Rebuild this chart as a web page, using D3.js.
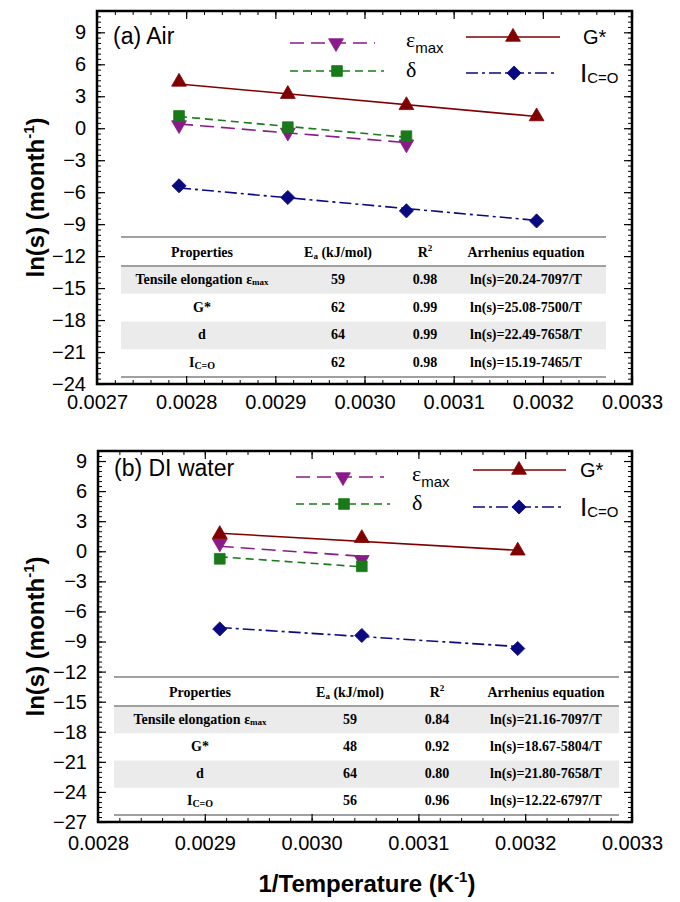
<!DOCTYPE html>
<html>
<head>
<meta charset="utf-8">
<script src="https://cdn.jsdelivr.net/npm/d3@7"></script>
<style>
  body { margin: 0; background: #fff; }
</style>
</head>
<body>
<div id="chart"></div>
<script>
// 1/T for 85, 70, 55, 40 degC
const airX = [0.002792, 0.002914, 0.003047, 0.003193];
const waterX = [0.002914, 0.003047, 0.003193];

const airEps = [0.3, -0.4, -1.5];
const airDelta = [1.15, 0.1, -0.75];
const airG = [4.35, 3.2, 2.15, 1.1];
const airIco = [-5.4, -6.5, -7.75, -8.7];

const waterEps = [0.8, -0.85];
const waterDelta = [-0.75, -1.5];
const waterG = [1.7, 1.3, 0.05];
const waterIco = [-7.75, -8.4, -9.7];

// fitted lines: value at first and last point
const airFitEps = [0.4, -1.35];
const airFitDelta = [1.1, -0.85];
const airFitG = [4.15, 1.1];
const airFitIco = [-5.6, -8.65];
const waterFitEps = [0.5, -0.5];
const waterFitDelta = [-0.55, -1.55];
const waterFitG = [1.8, 0.1];
const waterFitIco = [-7.6, -9.5];

const airXTicks = [0.0027, 0.0028, 0.0029, 0.0030, 0.0031, 0.0032, 0.0033];
const waterXTicks = [0.0028, 0.0029, 0.0030, 0.0031, 0.0032, 0.0033];
const airYTicks = [-24, -21, -18, -15, -12, -9, -6, -3, 0, 3, 6, 9];
const waterYTicks = [-27, -24, -21, -18, -15, -12, -9, -6, -3, 0, 3, 6, 9];

// table
const tableHead = ["Properties", "E", "R", "Arrhenius equation"];
const propMain = ["Tensile elongation ", "G*", "d", "I"];
const propSub = ["\u03b5max", "", "", "C=O"];
const airEa = ["59", "62", "64", "62"];
const airR2 = ["0.98", "0.99", "0.99", "0.98"];
const airEq = ["ln(s)=20.24-7097/T", "ln(s)=25.08-7500/T", "ln(s)=22.49-7658/T", "ln(s)=15.19-7465/T"];
const waterEa = ["59", "48", "64", "56"];
const waterR2 = ["0.84", "0.92", "0.80", "0.96"];
const waterEq = ["ln(s)=21.16-7097/T", "ln(s)=18.67-5804/T", "ln(s)=21.80-7658/T", "ln(s)=12.22-6797/T"];

const styles = {
  eps:   { color: "#8a1a8a", dash: "14,7", shape: "down" },
  delta: { color: "#1a7a1a", dash: "8,5", shape: "square" },
  g:     { color: "#800000", dash: null, shape: "up" },
  ico:   { color: "#0a0a80", dash: "12,4,3,4", shape: "diamond" }
};

const sans = "Arial, 'Liberation Sans', sans-serif";
const serif = "'Times New Roman', 'Liberation Serif', serif";

const svg = d3.select("#chart").append("svg")
  .attr("width", 680).attr("height", 902)
  .style("font-family", sans);

function marker(g, shape, cx, cy, color) {
  let sym = d3.symbolTriangle, size = 95, rot = 0;
  if (shape === "down") rot = 180;
  if (shape === "square") { sym = d3.symbolSquare; size = 115; }
  if (shape === "diamond") { sym = d3.symbolSquare; size = 100; rot = 45; }
  g.append("path")
    .attr("d", d3.symbol().type(sym).size(size)())
    .attr("transform", `translate(${cx},${cy}) rotate(${rot})`)
    .attr("fill", color).attr("stroke", color).attr("stroke-width", 0.8);
}

function legendLabel(g, key, x, y) {
  if (key === "eps") {
    const t = g.append("text").attr("x", x).attr("y", y).attr("font-family", serif).attr("font-size", 22).text("\u03b5");
    t.append("tspan").attr("font-family", sans).attr("font-size", 15).attr("dy", 6).text("max");
  } else if (key === "delta") {
    g.append("text").attr("x", x).attr("y", y).attr("font-family", serif).attr("font-size", 22).text("\u03b4");
  } else if (key === "g") {
    g.append("text").attr("x", x).attr("y", y).attr("font-size", 20).text("G*");
  } else {
    const t = g.append("text").attr("x", x).attr("y", y).attr("font-size", 26).text("I");
    t.append("tspan").attr("font-size", 15).attr("dy", 1).text("C=O");
  }
}

function panel(o) {
  const x = d3.scaleLinear().domain(o.xDomain).range([o.left, o.right]);
  const y = d3.scaleLinear().domain(o.yDomain).range([o.bottom, o.top]);
  const g = svg.append("g");

  // table behind the data
  const tb = o.table;
  const rowH = (tb.bottom - tb.head) / 4;
  [0, 2].forEach(i => {
    g.append("rect").attr("x", tb.left).attr("width", tb.right - tb.left)
      .attr("y", tb.head + i * rowH).attr("height", rowH).attr("fill", "#ebebeb");
  });
  [tb.top, tb.head, tb.bottom].forEach(yy => {
    g.append("line").attr("x1", tb.left).attr("x2", tb.right).attr("y1", yy).attr("y2", yy)
      .attr("stroke", "#a0a0a0").attr("stroke-width", 2.2);
  });
  const tt = g.append("g").attr("font-family", serif).attr("font-weight", "bold")
    .attr("font-size", 14).attr("text-anchor", "middle");
  const hy = (tb.top + tb.head) / 2 + 5;
  tt.append("text").attr("x", tb.cols[0]).attr("y", hy).text(tableHead[0]);
  const ea = tt.append("text").attr("x", tb.cols[1]).attr("y", hy).text(tableHead[1]);
  ea.append("tspan").attr("font-size", 9).attr("dy", 2).text("a");
  ea.append("tspan").attr("dy", -2).text(" (kJ/mol)");
  const r2 = tt.append("text").attr("x", tb.cols[2]).attr("y", hy).text(tableHead[2]);
  r2.append("tspan").attr("font-size", 9).attr("dy", -6).text("2");
  tt.append("text").attr("x", tb.cols[3]).attr("y", hy).text(tableHead[3]);
  propMain.forEach((p, i) => {
    const ry = tb.head + (i + 0.5) * rowH + 4;
    const t = tt.append("text").attr("x", tb.cols[0]).attr("y", ry).text(p);
    if (propSub[i]) {
      if (i === 0) {
        t.append("tspan").text(propSub[i][0]);
        t.append("tspan").attr("font-size", 9).attr("dy", 1).text(propSub[i].slice(1));
      } else {
        t.append("tspan").attr("font-size", 10).attr("dy", 2).text(propSub[i]);
      }
    }
    tt.append("text").attr("x", tb.cols[1]).attr("y", ry).text(o.ea[i]);
    tt.append("text").attr("x", tb.cols[2]).attr("y", ry).text(o.r2[i]);
    tt.append("text").attr("x", tb.cols[3]).attr("y", ry).text(o.eq[i]);
  });

  // fit lines and points
  o.series.forEach(s => {
    const st = styles[s.key];
    const xs = o.xVals.slice(0, s.values.length);
    g.append("path")
      .datum([[xs[0], s.fit[0]], [xs[xs.length - 1], s.fit[1]]])
      .attr("d", d3.line().x(d => x(d[0])).y(d => y(d[1])))
      .attr("fill", "none").attr("stroke", st.color).attr("stroke-width", 1.6)
      .attr("stroke-dasharray", st.dash);
    s.values.forEach((v, i) => marker(g, st.shape, x(xs[i]), y(v), st.color));
  });

  // legend
  o.legend.forEach(l => {
    const st = styles[l.key];
    g.append("line").attr("x1", l.x1).attr("x2", l.x2).attr("y1", l.y).attr("y2", l.y)
      .attr("stroke", st.color).attr("stroke-width", 1.6).attr("stroke-dasharray", st.dash);
    marker(g, st.shape, l.mx, l.y, st.color);
    legendLabel(g, l.key, l.tx, l.ty);
  });

  g.append("text").attr("x", o.left + 16).attr("y", o.titleY).attr("font-size", 23).text(o.title);

  // axes, ticks pointing inward
  const xMinor = d3.range(o.xDomain[0], o.xDomain[1] + 1e-9, 0.00002);
  const yMinor = d3.range(o.yDomain[0], o.yDomain[1] + 1e-9, 0.5);
  const ax = [
    [d3.axisBottom(x), `translate(0,${o.bottom})`, o.xTicks, xMinor],
    [d3.axisTop(x), `translate(0,${o.top})`, o.xTicks, xMinor],
    [d3.axisLeft(y), `translate(${o.left},0)`, o.yTicks, yMinor],
    [d3.axisRight(y), `translate(${o.right},0)`, o.yTicks, yMinor]
  ];
  ax.forEach(([axis, tr, major, minor], k) => {
    g.append("g").attr("transform", tr)
      .call(axis.tickValues(minor).tickSize(-4).tickFormat(""))
      .call(a => a.select(".domain").remove());
    const a = g.append("g").attr("transform", tr)
      .call(axis.tickValues(major).tickSizeInner(-8).tickSizeOuter(0)
        .tickPadding(k === 0 ? o.xPad : 11)
        .tickFormat(k === 0 ? d3.format(".4f") : (k === 2 ? d3.format("d") : "")));
    a.select(".domain").remove();
    a.selectAll("text").attr("font-size", 20).attr("font-family", sans).attr("fill", "#000");
    a.selectAll("line").attr("stroke-width", 1.2);
  });
  g.selectAll(".tick line").attr("stroke", "#000");

  g.append("rect").attr("x", o.left).attr("y", o.top)
    .attr("width", o.right - o.left).attr("height", o.bottom - o.top)
    .attr("fill", "none").attr("stroke", "#000").attr("stroke-width", 2.5);

  const yl = g.append("text")
    .attr("transform", `translate(44,${(o.top + o.bottom) / 2}) rotate(-90)`)
    .attr("text-anchor", "middle").attr("font-size", 24).attr("font-weight", "bold")
    .text("ln(s) (month");
  yl.append("tspan").attr("font-size", 15).attr("dy", -10).text("-1");
  yl.append("tspan").attr("dy", 10).text(")");
}

panel({
  xDomain: [0.0027, 0.0033], yDomain: [-24, 11],
  left: 97, right: 632, top: 11, bottom: 384, xPad: 11,
  xTicks: airXTicks, yTicks: airYTicks, xVals: airX,
  title: "(a) Air", titleY: 44,
  series: [
    { key: "eps", values: airEps, fit: airFitEps },
    { key: "delta", values: airDelta, fit: airFitDelta },
    { key: "g", values: airG, fit: airFitG },
    { key: "ico", values: airIco, fit: airFitIco }
  ],
  legend: [
    { key: "eps", x1: 290, x2: 375, mx: 336, y: 43, tx: 406, ty: 47 },
    { key: "g", x1: 466, x2: 560, mx: 513, y: 37, tx: 583, ty: 44 },
    { key: "delta", x1: 290, x2: 384, mx: 337, y: 71, tx: 406, ty: 77 },
    { key: "ico", x1: 466, x2: 558, mx: 514, y: 73, tx: 580, ty: 82 }
  ],
  table: { left: 121, right: 606, top: 237, head: 266, bottom: 377, cols: [202, 338, 425, 526] },
  ea: airEa, r2: airR2, eq: airEq
});

panel({
  xDomain: [0.0028, 0.0033], yDomain: [-27, 10],
  left: 98, right: 632, top: 451, bottom: 822, xPad: 14,
  xTicks: waterXTicks, yTicks: waterYTicks, xVals: waterX,
  title: "(b) DI water", titleY: 476,
  series: [
    { key: "eps", values: waterEps, fit: waterFitEps },
    { key: "delta", values: waterDelta, fit: waterFitDelta },
    { key: "g", values: waterG, fit: waterFitG },
    { key: "ico", values: waterIco, fit: waterFitIco }
  ],
  legend: [
    { key: "eps", x1: 296, x2: 384, mx: 343, y: 477, tx: 412, ty: 481 },
    { key: "g", x1: 473, x2: 566, mx: 519, y: 470, tx: 580, ty: 477 },
    { key: "delta", x1: 296, x2: 390, mx: 344, y: 504, tx: 412, ty: 510 },
    { key: "ico", x1: 473, x2: 562, mx: 519, y: 507, tx: 580, ty: 516 }
  ],
  table: { left: 114, right: 619, top: 677, head: 706, bottom: 815, cols: [200, 350, 437, 546] },
  ea: waterEa, r2: waterR2, eq: waterEq
});

svg.append("text").attr("x", 367).attr("y", 892).attr("text-anchor", "middle")
  .attr("font-size", 24).attr("font-weight", "bold").text("1/Temperature (K")
  .call(t => {
    t.append("tspan").attr("font-size", 15).attr("dy", -10).text("-1");
    t.append("tspan").attr("dy", 10).text(")");
  });
</script>
</body>
</html>
